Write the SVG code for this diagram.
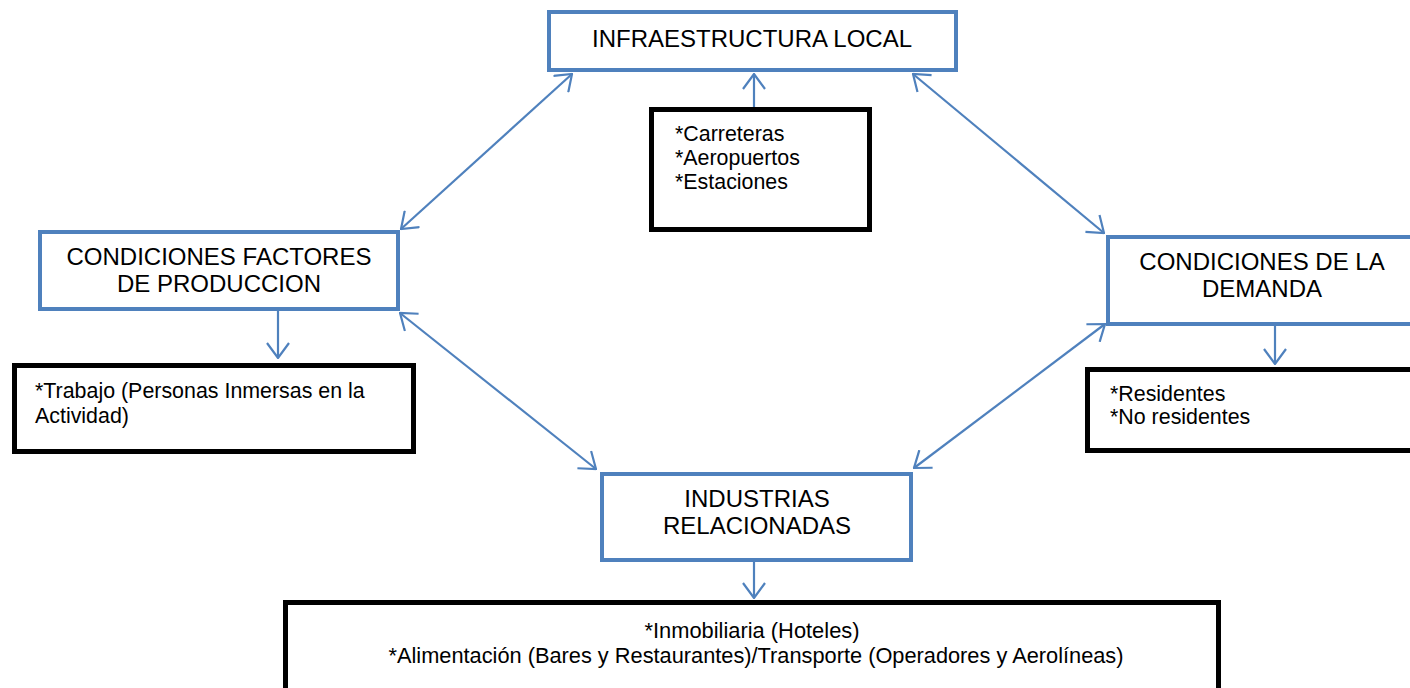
<svg xmlns="http://www.w3.org/2000/svg" width="1410" height="688" viewBox="0 0 1410 688">
<defs>
<style>
.blue{fill:#fff;stroke:#4F81BD;stroke-width:4}
.black{fill:#fff;stroke:#000;stroke-width:5}
.h{font-family:"Liberation Sans",Arial,sans-serif;font-size:24px;fill:#000;text-anchor:middle}
.b{font-family:"Liberation Sans",Arial,sans-serif;font-size:21.4px;fill:#000}
.n{font-family:"Liberation Sans",Arial,sans-serif;font-size:22px;fill:#000;text-anchor:middle}
.c{stroke:#4F81BD;stroke-width:2.2;fill:none}
</style>
<marker id="ah" viewBox="0 0 17 24" refX="16" refY="12" markerWidth="17" markerHeight="24" markerUnits="userSpaceOnUse" orient="auto-start-reverse">
<path d="M1,1 L16,12 L1,23" fill="none" stroke="#4F81BD" stroke-width="2.2"/>
</marker>
</defs>
<rect width="1410" height="688" fill="#fff"/>
<g id="connectors">
<line class="c" x1="572" y1="74" x2="401" y2="229" marker-start="url(#ah)" marker-end="url(#ah)"/>
<line class="c" x1="913" y1="74" x2="1104" y2="233" marker-start="url(#ah)" marker-end="url(#ah)"/>
<line class="c" x1="400" y1="313" x2="596" y2="469" marker-start="url(#ah)" marker-end="url(#ah)"/>
<line class="c" x1="1105" y1="324" x2="914" y2="468" marker-start="url(#ah)" marker-end="url(#ah)"/>
<line class="c" x1="754" y1="107" x2="754" y2="74" marker-end="url(#ah)"/>
<line class="c" x1="278" y1="311" x2="278" y2="358" marker-end="url(#ah)"/>
<line class="c" x1="1275" y1="326" x2="1275" y2="364" marker-end="url(#ah)"/>
<line class="c" x1="754" y1="562" x2="754" y2="598" marker-end="url(#ah)"/>
</g>
<g id="infraestructura">
<rect class="blue" x="549" y="12" width="407" height="58"/>
<text class="h" x="752" y="47">INFRAESTRUCTURA LOCAL</text>
</g>
<g id="infra-items">
<rect class="black" x="651.5" y="109.5" width="218" height="120"/>
<text class="b" x="675" y="141">*Carreteras</text>
<text class="b" x="675" y="165">*Aeropuertos</text>
<text class="b" x="675" y="189">*Estaciones</text>
</g>
<g id="factores">
<rect class="blue" x="40" y="232" width="358" height="77"/>
<text class="h" x="219" y="265">CONDICIONES FACTORES</text>
<text class="h" x="219" y="292">DE PRODUCCION</text>
</g>
<g id="factores-items">
<rect class="black" x="14.5" y="365.5" width="399" height="86"/>
<text class="b" x="35" y="398">*Trabajo (Personas Inmersas en la</text>
<text class="b" x="35" y="423">Actividad)</text>
</g>
<g id="demanda">
<rect class="blue" x="1108" y="237" width="310" height="87"/>
<text class="h" x="1262" y="270">CONDICIONES DE LA</text>
<text class="h" x="1262" y="297">DEMANDA</text>
</g>
<g id="demanda-items">
<rect class="black" x="1087.5" y="369.5" width="340" height="81"/>
<text class="b" x="1110" y="401">*Residentes</text>
<text class="b" x="1110" y="424">*No residentes</text>
</g>
<g id="industrias">
<rect class="blue" x="602" y="474" width="309" height="86"/>
<text class="h" x="757" y="507">INDUSTRIAS</text>
<text class="h" x="757" y="534">RELACIONADAS</text>
</g>
<g id="industrias-items">
<rect class="black" x="285.5" y="602.5" width="933" height="100"/>
<text class="n" x="752" y="638" textLength="215" lengthAdjust="spacingAndGlyphs">*Inmobiliaria (Hoteles)</text>
<text class="n" x="756" y="663" textLength="735" lengthAdjust="spacingAndGlyphs">*Alimentación (Bares y Restaurantes)/Transporte (Operadores y Aerolíneas)</text>
</g>
</svg>
